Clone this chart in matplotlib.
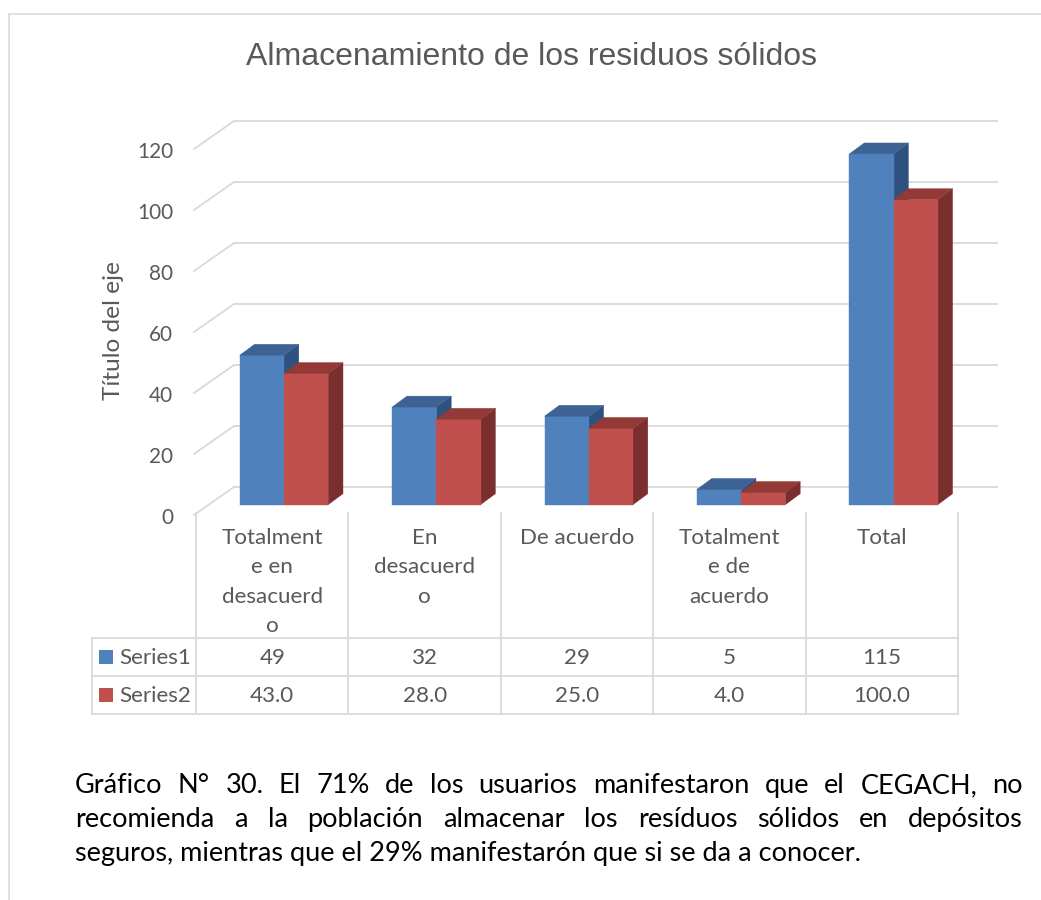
import matplotlib
matplotlib.use("Agg")
import matplotlib.pyplot as plt
from matplotlib.transforms import Affine2D, blended_transform_factory
from matplotlib.patches import Polygon, Rectangle
from matplotlib.lines import Line2D

# ---------------- data ----------------
categories = ["Totalment\ne en\ndesacuerd\no", "En\ndesacuerd\no", "De acuerdo",
              "Totalment\ne de\nacuerdo", "Total"]
series_names = ["Series1", "Series2"]
series1 = [49, 32, 29, 5, 115]
series2 = [43.0, 28.0, 25.0, 4.0, 100.0]
yticks = [0, 20, 40, 60, 80, 100, 120]
title = "Almacenamiento de los residuos sólidos"
ylabel = "Título del eje"
caption_lines = [
    "Gráfico N° 30. El 71% de los usuarios manifestaron que el CEGACH, no",
    "recomienda a la población almacenar los resíduos sólidos en depósitos",
    "seguros, mientras que el 29% manifestarón que si se da a conocer.",
]

# ---------------- style ----------------
W, H, DPI = 1041, 900, 100
GRID = "#D9D9D9"
TXT = "#595959"
front_cols = ["#4F81BD", "#C0504D"]
top_cols = ["#3D6394", "#933A37"]
side_cols = ["#2F5180", "#7A2F2E"]
CAL = ["Lato", "DejaVu Sans"]
ARIAL = ["Liberation Sans", "DejaVu Sans"]

fig = plt.figure(figsize=(W / DPI, H / DPI), dpi=DPI)
fig.patch.set_facecolor("white")
renderer = fig.canvas.get_renderer()

# figure pixel transform (y down)
fpx = Affine2D().scale(1.0 / W, -1.0 / H).translate(0, 1) + fig.transFigure


def fit(text, family, target):
    t = fig.text(0, 0, text, fontsize=20, family=family)
    w = t.get_window_extent(renderer).width
    t.remove()
    return 20 * target / w


# chart frame
fig.add_artist(Line2D([9, 1041], [14, 14], transform=fpx, color=GRID, lw=1.1))
fig.add_artist(Line2D([9, 9], [14, 900], transform=fpx, color=GRID, lw=1.1))

# front plane of the plot area
L, R, B, T = 196, 958, 515, 149
ax = fig.add_axes([L / W, 1 - B / H, (R - L) / W, (B - T) / H])
ax.set_xlim(-0.5, len(categories) - 0.5)
ax.set_ylim(0, 120)
ax.axis("off")

px_x = ax.transData.transform((1, 0))[0] - ax.transData.transform((0, 0))[0]
px_y = ax.transData.transform((0, 1))[1] - ax.transData.transform((0, 0))[1]
DX, DY = 38 / px_x, 28 / px_y   # depth vector in data units
x0, x1 = -0.5, len(categories) - 0.5

# back wall gridlines + left wall diagonals
for v in yticks:
    ax.plot([x0 + DX, x1 + DX + 2 / px_x], [v + DY, v + DY], color=GRID, lw=1.3,
            clip_on=False, zorder=1, solid_capstyle="butt")
    ax.plot([x0 - 2 / px_x, x0 + DX], [v, v + DY], color=GRID, lw=1.3,
            clip_on=False, zorder=1)

# tick labels
tick_fs = fit("120", CAL, 36)
tick_tr = blended_transform_factory(fpx, ax.transData) + Affine2D().translate(0, -9)
for v in yticks:
    ax.text(173, v, f"{v}", transform=tick_tr, ha="right", va="baseline",
            fontsize=tick_fs, family=CAL, color=TXT)

# bars (pseudo 3-D)
bw = 0.29
shift = -0.015
f1, f2 = 0.37, 0.76
for i in range(len(categories)):
    for s, vals in enumerate([series1, series2]):
        v = vals[i]
        xa = i + shift - bw + s * bw
        xb = xa + bw
        a1x, a1y = f1 * DX, f1 * DY
        a2x, a2y = f2 * DX, f2 * DY
        front = Polygon([(xa + a1x, a1y), (xb + a1x, a1y), (xb + a1x, v + a1y), (xa + a1x, v + a1y)],
                        closed=True, fc=front_cols[s], ec=front_cols[s], lw=0.3,
                        clip_on=False, zorder=3 + i * 0.1 + s * 0.01)
        top = Polygon([(xa + a1x, v + a1y), (xb + a1x, v + a1y), (xb + a2x, v + a2y), (xa + a2x, v + a2y)],
                      closed=True, fc=top_cols[s], ec=top_cols[s], lw=0.3,
                      clip_on=False, zorder=3 + i * 0.1 + s * 0.01)
        side = Polygon([(xb + a1x, a1y), (xb + a1x, v + a1y), (xb + a2x, v + a2y), (xb + a2x, a2y)],
                       closed=True, fc=side_cols[s], ec=side_cols[s], lw=0.3,
                       clip_on=False, zorder=3 + i * 0.1 + s * 0.01 - 0.005)
        for p in (side, front, top):
            ax.add_patch(p)

# title & axis title
title_fs = fit(title, ARIAL, 570)
fig.text(531, 65, title, transform=fpx, ha="center", va="baseline",
         fontsize=title_fs, family=ARIAL, color=TXT)
yl_fs = fit(ylabel, CAL, 139)
fig.text(114, 331, ylabel, transform=fpx, ha="center", va="center", rotation=90,
         fontsize=yl_fs, family=CAL, color=TXT)

# ---------------- data table ----------------
tb = blended_transform_factory(ax.transData, fpx)
tab_fs = fit("Totalment", CAL, 101)
row_top, row1, row2, row3 = 513, 638, 676, 714
for k in range(len(categories) + 1):
    xb_ = x0 + k
    fig.add_artist(Line2D([xb_, xb_], [row_top, row3], transform=tb, color=GRID, lw=1.3))
fig.add_artist(Line2D([92, 92], [row1, row3], transform=fpx, color=GRID, lw=1.3))
for yy in (row1, row2, row3):
    fig.add_artist(Line2D([92, L], [yy, yy], transform=fpx, color=GRID, lw=1.3))
    fig.add_artist(Line2D([x0, x1], [yy, yy], transform=tb, color=GRID, lw=1.3))

for i, lab in enumerate(categories):
    for k, line in enumerate(lab.split("\n")):
        fig.text(i, 544 + 29.3 * k, line, transform=tb, ha="center", va="baseline",
                 fontsize=tab_fs, family=CAL, color=TXT)
    fig.text(i, 664, f"{series1[i]:.0f}", transform=tb, ha="center", va="baseline",
             fontsize=tab_fs, family=CAL, color=TXT)
    fig.text(i, 702, f"{series2[i]:.1f}", transform=tb, ha="center", va="baseline",
             fontsize=tab_fs, family=CAL, color=TXT)

for s, (name, yb) in enumerate(zip(series_names, (664, 702))):
    fig.add_artist(Rectangle((99, yb - 14), 14, 14, transform=fpx, fc=front_cols[s], ec="none"))
    fig.text(119, yb, name, transform=fpx, ha="left", va="baseline",
             fontsize=tab_fs, family=CAL, color=TXT)

# ---------------- caption (justified) ----------------
cap_fs = fit(caption_lines[2], CAL, 787)
cap_left, cap_right = 75, 1023
baselines = [793, 827, 861]
for n, (line, yb) in enumerate(zip(caption_lines, baselines)):
    if n == len(caption_lines) - 1:
        fig.text(cap_left, yb, line, transform=fpx, ha="left", va="baseline",
                 fontsize=cap_fs, family=CAL, color="black")
        continue
    words = line.split(" ")
    texts = [fig.text(0, yb, w_, transform=fpx, ha="left", va="baseline",
                      fontsize=cap_fs, family=CAL, color="black") for w_ in words]
    widths = [t.get_window_extent(renderer).width for t in texts]
    gap = (cap_right - cap_left - sum(widths)) / (len(words) - 1)
    xpos = cap_left
    for t, w_ in zip(texts, widths):
        t.set_x(xpos)
        xpos += w_ + gap

fig.savefig("out.png", dpi=DPI, facecolor="white")
